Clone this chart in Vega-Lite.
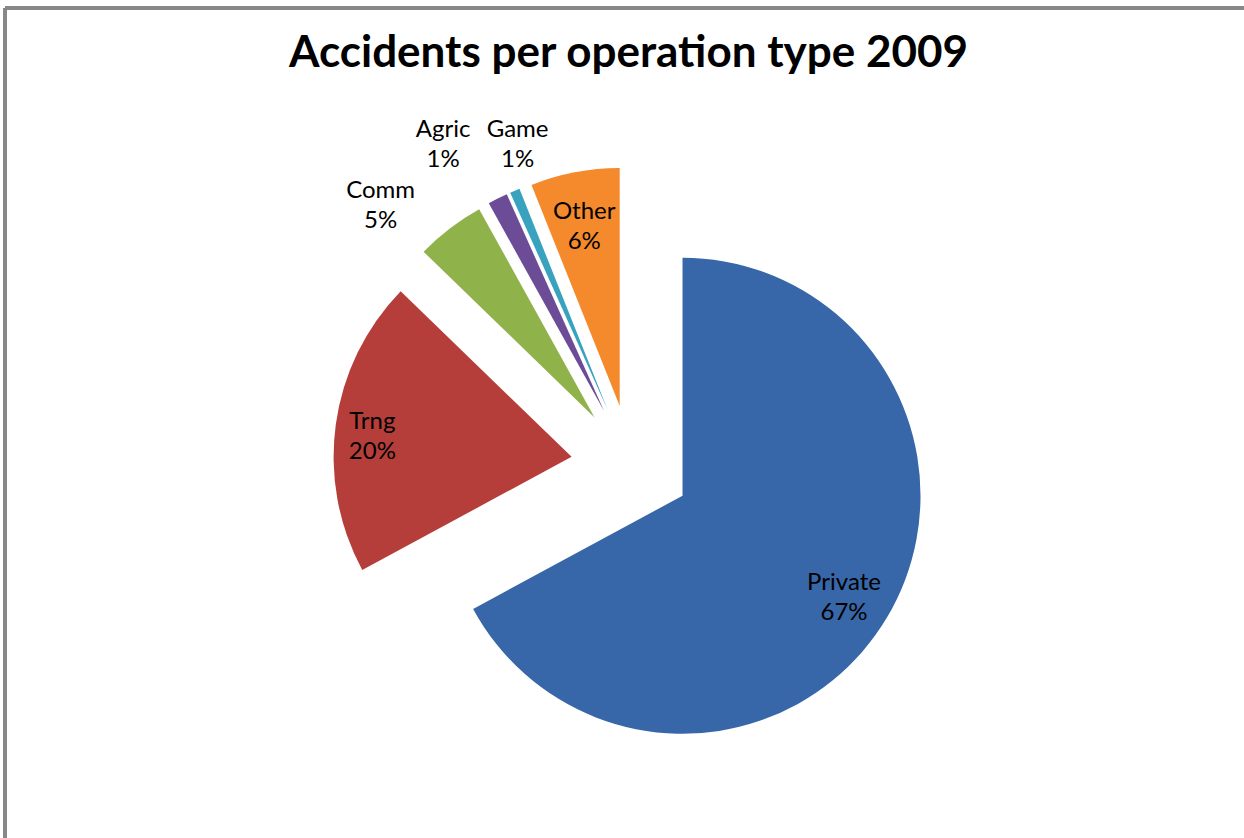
{
  "$schema": "https://vega.github.io/schema/vega-lite/v6.json",
  "width": 1239,
  "height": 830,
  "autosize": {"type": "none"},
  "padding": {"left": 5, "top": 8, "right": 0, "bottom": 0},
  "background": "white",
  "config": {
    "view": {"stroke": null},
    "text": {"font": "Lato", "fontSize": 24, "lineBreak": "\n", "lineHeight": 30, "align": "center", "baseline": "middle", "color": "#000000"}
  },
  "title": {
    "text": "Accidents per operation type 2009",
    "font": "Lato",
    "fontSize": 44,
    "fontWeight": "bold",
    "color": "#000000",
    "anchor": "middle",
    "baseline": "alphabetic",
    "offset": -104,
    "dx": 4
  },
  "data": {
    "values": [
      {"cat": "Private", "value": 100},
      {"cat": "Trng", "value": 30},
      {"cat": "Comm", "value": 7},
      {"cat": "Agric", "value": 2},
      {"cat": "Game", "value": 1},
      {"cat": "Other", "value": 9}
    ]
  },
  "transform": [
    {"joinaggregate": [{"op": "sum", "field": "value", "as": "total"}]},
    {"window": [{"op": "sum", "field": "value", "as": "cum"}], "frame": [null, 0]},
    {"calculate": "datum.cum / datum.total", "as": "t1"},
    {"calculate": "(datum.cum - datum.value) / datum.total", "as": "t0"},
    {"calculate": "(datum.t0 + datum.t1) * PI", "as": "mid"},
    {"calculate": "0.252 * sin(datum.mid)", "as": "ax"},
    {"calculate": "0.252 * cos(datum.mid)", "as": "ay"},
    {"calculate": "datum.value / datum.total >= 0.055 ? 0.79 : 1.25", "as": "lr"},
    {"calculate": "datum.ax + datum.lr * sin(datum.mid)", "as": "lx"},
    {"calculate": "datum.ay + datum.lr * cos(datum.mid)", "as": "ly"},
    {"calculate": "datum.cat + '\\n' + format(datum.value / datum.total, '.0%')", "as": "label"}
  ],
  "layer": [
    {
      "mark": {"type": "arc", "radius": 238},
      "encoding": {
        "x": {"field": "ax", "type": "quantitative", "scale": {"domain": [-2.6303, 2.5756], "nice": false, "zero": false}, "axis": null},
        "y": {"field": "ay", "type": "quantitative", "scale": {"domain": [-1.5672, 1.9202], "nice": false, "zero": false}, "axis": null},
        "theta": {"field": "t0", "type": "quantitative", "stack": null, "scale": {"domain": [0, 1], "range": [0, 6.283185307]}},
        "theta2": {"field": "t1"},
        "color": {
          "field": "cat",
          "type": "nominal",
          "scale": {
            "domain": ["Private", "Trng", "Comm", "Agric", "Game", "Other"],
            "range": ["#3767a8", "#b53e3b", "#8fb24b", "#6c4c97", "#38a2bf", "#f48a2c"]
          },
          "legend": null
        }
      }
    },
    {
      "mark": {"type": "rule", "color": "#878787", "strokeWidth": 3},
      "encoding": {"x": {"datum": -2.6303, "type": "quantitative", "scale": {"domain": [-2.6303, 2.5756], "nice": false, "zero": false}, "axis": null}}
    },
    {
      "mark": {"type": "rule", "color": "#878787", "strokeWidth": 3},
      "encoding": {"y": {"datum": 1.9202, "type": "quantitative", "scale": {"domain": [-1.5672, 1.9202], "nice": false, "zero": false}, "axis": null}}
    },
    {
      "transform": [{"filter": "datum.value / datum.total >= 0.055 && datum.cat != 'Trng'"}],
      "mark": {"type": "text", "dy": -9},
      "encoding": {
        "x": {"field": "lx", "type": "quantitative"},
        "y": {"field": "ly", "type": "quantitative"},
        "text": {"field": "label"}
      }
    },
    {
      "transform": [{"filter": "datum.cat == 'Trng'"}],
      "mark": {"type": "text", "dx": -13, "dy": -9},
      "encoding": {
        "x": {"field": "lx", "type": "quantitative"},
        "y": {"field": "ly", "type": "quantitative"},
        "text": {"field": "label"}
      }
    },
    {
      "transform": [{"filter": "datum.cat == 'Comm'"}],
      "mark": {"type": "text", "dx": -33, "dy": 10},
      "encoding": {
        "x": {"field": "lx", "type": "quantitative"},
        "y": {"field": "ly", "type": "quantitative"},
        "text": {"field": "label"}
      }
    },
    {
      "transform": [{"filter": "datum.cat == 'Agric'"}],
      "mark": {"type": "text", "dx": -28, "dy": -15},
      "encoding": {
        "x": {"field": "lx", "type": "quantitative"},
        "y": {"field": "ly", "type": "quantitative"},
        "text": {"field": "label"}
      }
    },
    {
      "transform": [{"filter": "datum.cat == 'Game'"}],
      "mark": {"type": "text", "dx": 26, "dy": -6},
      "encoding": {
        "x": {"field": "lx", "type": "quantitative"},
        "y": {"field": "ly", "type": "quantitative"},
        "text": {"field": "label"}
      }
    }
  ]
}
